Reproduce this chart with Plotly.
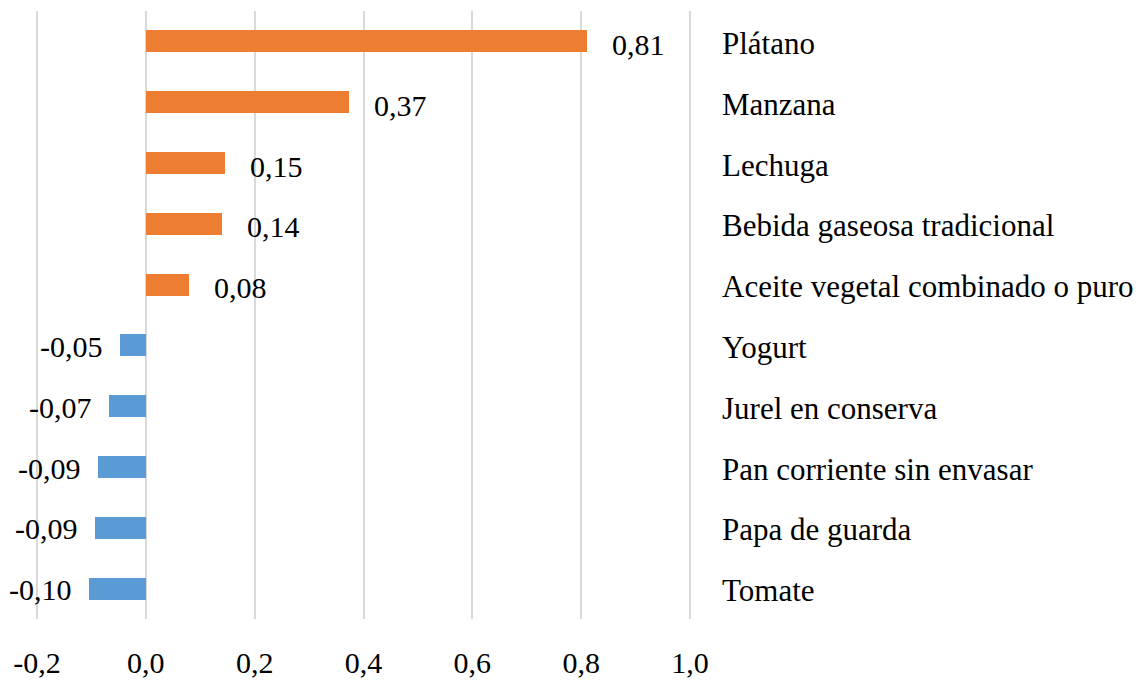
import plotly.graph_objects as go

categories = ["Plátano", "Manzana", "Lechuga", "Bebida gaseosa tradicional",
              "Aceite vegetal combinado o puro", "Yogurt", "Jurel en conserva",
              "Pan corriente sin envasar", "Papa de guarda", "Tomate"]
values = [0.81, 0.373, 0.146, 0.14, 0.079, -0.047, -0.067, -0.087, -0.094, -0.104]
tick_vals = [-0.2, 0.0, 0.2, 0.4, 0.6, 0.8, 1.0]
tick_text = ["-0,2", "0,0", "0,2", "0,4", "0,6", "0,8", "1,0"]

FONT = "Liberation Serif"
FS = 30
ORANGE = "#ED7D31"
BLUE = "#5B9BD5"

colors = [ORANGE if v > 0 else BLUE for v in values]

fig = go.Figure()
fig.add_trace(go.Bar(
    x=values, y=categories, orientation="h",
    marker=dict(color=colors, line=dict(width=0)),
    width=0.36, hoverinfo="x+y",
))

annotations = []
for cat, v in zip(categories, values):
    label = ("%.2f" % v).replace(".", ",")
    if v > 0:
        annotations.append(dict(x=v, y=cat, xref="x", yref="y", text=label,
                                showarrow=False, xanchor="left", xshift=23, yshift=-3,
                                font=dict(family=FONT, size=FS, color="#000")))
    else:
        annotations.append(dict(x=v, y=cat, xref="x", yref="y", text=label,
                                showarrow=False, xanchor="right", xshift=-15, yshift=-1,
                                font=dict(family=FONT, size=FS, color="#000")))
    # category names on the right
    annotations.append(dict(x=1.0, y=cat, xref="x", yref="y", text=cat,
                            showarrow=False, xanchor="left", xshift=30, yshift=-2,
                            font=dict(family=FONT, size=31, color="#000")))

# page body adds an 8px offset, so the figure is 8px smaller on each side;
# range padded a little so the -0,2 gridline is not dropped at the edge
fig.update_layout(
    width=1140, height=672,
    margin=dict(l=27, r=456, t=3, b=61),
    paper_bgcolor="white", plot_bgcolor="white",
    showlegend=False,
    bargap=0,
    font=dict(family=FONT, size=FS, color="#000"),
    annotations=annotations,
    xaxis=dict(range=[-0.20368, 1.00368], tickvals=tick_vals, ticktext=tick_text,
               showgrid=True, gridcolor="#D9D9D9", gridwidth=2,
               zeroline=False, showline=False, ticks="", automargin=False,
               ticklabelstandoff=23, tickfont=dict(family=FONT, size=FS)),
    yaxis=dict(categoryorder="array", categoryarray=categories, autorange="reversed",
               showticklabels=False, showgrid=False, zeroline=False, ticks="",
               automargin=False),
)

fig.write_html("out.html")
